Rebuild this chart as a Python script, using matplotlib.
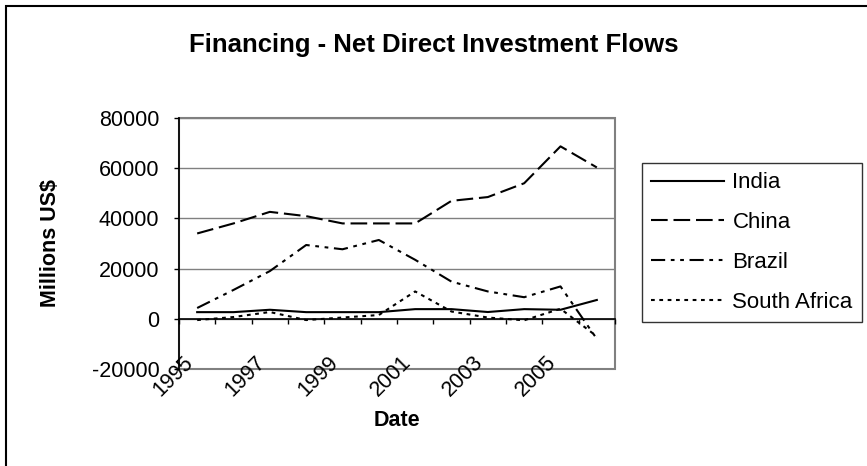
import matplotlib
matplotlib.use("Agg")
import matplotlib.pyplot as plt
from matplotlib import transforms
from matplotlib.patches import Rectangle

# Net direct investment flows, millions US$
years = list(range(1995, 2007))
india = [2650, 2650, 3600, 2650, 2650, 2650, 3850, 3850, 2700, 3850, 3600, 7500]
china = [34000, 38000, 42600, 40900, 38000, 38000, 38000, 47000, 48500, 54000, 68700, 60300]
brazil = [4300, 11500, 19000, 29400, 27700, 31400, 23500, 14800, 10900, 8600, 12900, -8000]
south_africa = [-500, 700, 2700, -500, 500, 1500, 10900, 2900, 500, -600, 4000, -7000]

plt.rcParams['font.family'] = ['Liberation Sans', 'DejaVu Sans']
plt.rcParams['axes.unicode_minus'] = False

W, H = 867, 466
fig = plt.figure(figsize=(W / 100, H / 100), dpi=100)
ax = fig.add_axes([179 / W, (H - 369) / H, 436 / W, 251 / H])

xs = range(len(years))
lw = 1.5
ax.plot(xs, india, color='black', lw=lw, ls='-', label='India')
ax.plot(xs, china, color='black', lw=lw, ls=(0, (8, 2.8)), label='China')
ax.plot(xs, brazil, color='black', lw=lw, ls=(0, (6.8, 2.7, 1.8, 2.7, 1.8, 2.7)), label='Brazil')
ax.plot(xs, south_africa, color='black', lw=lw, ls=(0, (1.8, 2.2)), label='South Africa')

ax.set_xlim(-0.5, len(years) - 0.5)
ax.set_ylim(-20000, 80000)
ax.set_yticks(range(-20000, 80001, 20000))
ax.yaxis.grid(True, color='#808080', lw=1)
ax.set_axisbelow(True)

# plot area border in grey, value axis black, category axis crossing at 0
ax.patch.set_edgecolor('#808080')
ax.patch.set_linewidth(1.5)
ax.spines['top'].set_visible(False)
ax.spines['right'].set_visible(False)
ax.spines['left'].set_color('black')
ax.spines['left'].set_linewidth(1.2)
ax.spines['bottom'].set_position(('data', 0))
ax.spines['bottom'].set_color('black')
ax.spines['bottom'].set_linewidth(1.2)

ax.set_xticks([i - 0.5 for i in range(len(years) + 1)])
ax.tick_params(axis='x', direction='out', length=3.6, width=1, labelbottom=False)
ax.tick_params(axis='y', direction='out', length=3.6, width=1, pad=10.5, labelsize=15.5)

# rotated category labels, every second year, at the foot of the plot area
lab_tr = transforms.blended_transform_factory(ax.transData, ax.transAxes) + \
    transforms.ScaledTranslation(-15 / 100, 0, fig.dpi_scale_trans)
for i in range(0, len(years), 2):
    ax.text(i, 0.068, str(years[i]), transform=lab_tr, rotation=45,
            ha='right', va='top', rotation_mode='anchor', fontsize=15.5)

ax.set_ylabel('Millions US$', fontsize=15.5, fontweight='bold')
ax.yaxis.set_label_coords(-0.27, 0.5)
ax.set_xlabel('Date', fontsize=15.5, fontweight='bold')
ax.xaxis.set_label_coords(0.5, -0.163)

fig.text(0.5, 1 - 45 / H, 'Financing - Net Direct Investment Flows',
         ha='center', va='center', fontsize=18.5, fontweight='bold')

leg = ax.legend(loc='upper right', bbox_to_anchor=(862 / W, 1 - 163 / H),
                bbox_transform=fig.transFigure, fontsize=16, frameon=True,
                fancybox=False, borderaxespad=0, borderpad=0.42,
                labelspacing=0.85, handlelength=3.3, handletextpad=0.36)
leg.get_frame().set_edgecolor('black')
leg.get_frame().set_linewidth(1.0)

# chart area border
fig.add_artist(Rectangle((6 / W, -0.1), 1.2, 1.1 - 6 / H, transform=fig.transFigure,
                         fill=False, edgecolor='black', lw=1.5))

fig.savefig('out.png', dpi=100)
